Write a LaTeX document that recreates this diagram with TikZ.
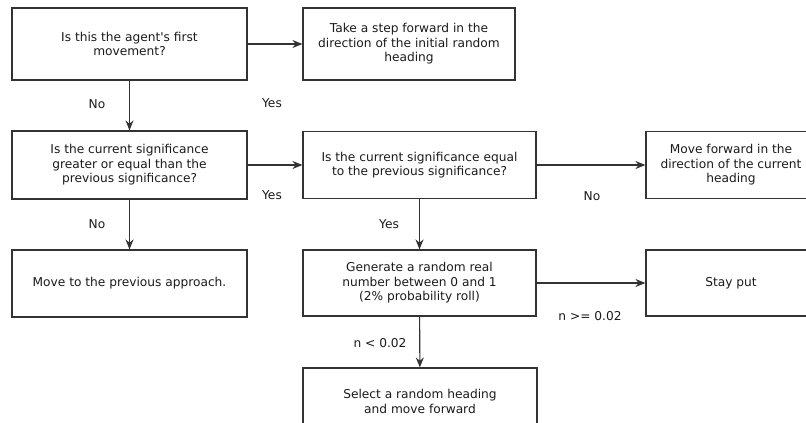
\documentclass[tikz,border=0pt]{standalone}
\usepackage{fontspec}
\setmainfont{DejaVu Sans}[Ligatures=TeXOff]
\usepackage{xcolor}
\usetikzlibrary{arrows.meta}

\definecolor{linegray}{HTML}{333333}
\definecolor{textgray}{HTML}{1A1A1A}

\begin{document}
\begin{tikzpicture}[x=1pt,y=-1pt,
    every node/.style={font=\fontsize{12.2}{14.6}\selectfont,text=textgray},
    stepbox/.style={draw=linegray,line width=1.1pt,rectangle,align=center,inner sep=0pt},
    flow/.style={draw=linegray,line width=1.1pt,-{Stealth[length=10pt,width=8pt]}}]
    \useasboundingbox (0,0) rectangle (806,423);
    \clip (0,0) rectangle (806,423);
    \node[stepbox,minimum width=235pt,minimum height=72pt] (first) at (129.5,44) {Is this the agent's first\\movement?};
    \node[stepbox,minimum width=212pt,minimum height=72pt] (initial) at (409,44) {Take a step forward in the\\direction of the initial random\\heading};
    \node[stepbox,minimum width=235pt,minimum height=68pt] (greater) at (129.5,165) {Is the current significance\\greater or equal than the\\previous significance?};
    \node[stepbox,minimum width=233pt,minimum height=67pt] (equal) at (419.5,165) {Is the current significance equal\\to the previous significance?};
    \node[stepbox,minimum width=170pt,minimum height=67pt] (current) at (731,165) {Move forward in the\\direction of the current\\heading};
    \node[stepbox,minimum width=235pt,minimum height=67pt] (previous) at (129.5,283.5) {Move to the previous approach.};
    \node[stepbox,minimum width=233pt,minimum height=66pt] (roll) at (419.5,283) {Generate a random real\\number between 0 and 1\\(2\% probability roll)};
    \node[stepbox,minimum width=170pt,minimum height=66pt] (stay) at (731,283) {Stay put};
    \node[stepbox,minimum width=234pt,minimum height=67pt] (select) at (420,401.5) {Select a random heading\\and move forward};
    % connectors
    \draw[flow] (first) -- (initial);
    \draw[flow] (first) -- (greater);
    \draw[flow] (greater) -- (equal);
    \draw[flow] (greater) -- (previous);
    \draw[flow] (equal) -- (current);
    \draw[flow] (equal) -- (roll);
    \draw[flow] (roll) -- (stay);
    \draw[flow] (roll) -- (select);
    % labels
    \node (yes1) at (272,103) {Yes};
    \node (no1) at (97,104) {No};
    \node (yes2) at (272,195) {Yes};
    \node (no2) at (97,224) {No};
    \node (yes3) at (389,224) {Yes};
    \node (no3) at (592,196) {No};
    \node (high) at (590,316) {n >= 0.02};
    \node (low) at (380,343) {n < 0.02};
\end{tikzpicture}
\end{document}
